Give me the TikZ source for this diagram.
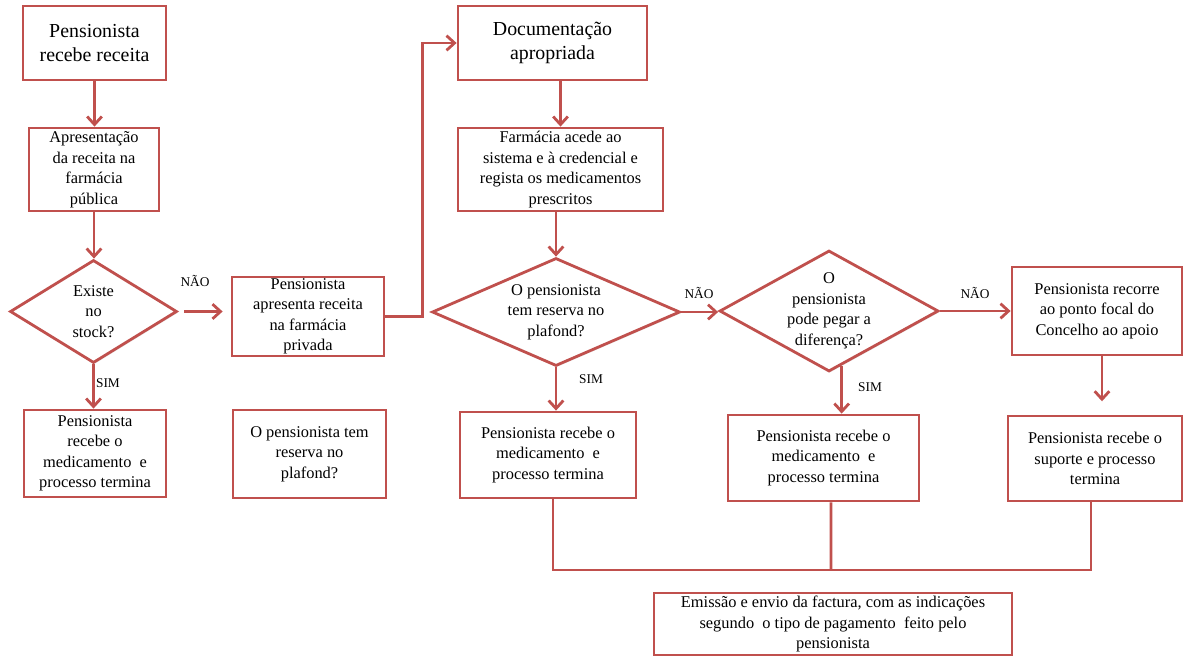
\documentclass[tikz,border=0pt]{standalone}
\usepackage{fontspec}
\setmainfont{Liberation Serif}
\usetikzlibrary{shapes.geometric, arrows.meta, calc, shadows}
\definecolor{flowred}{RGB}{192, 80, 77}
\newcommand{\boxfont}{\fontsize{12.3}{15.4}\selectfont}
\newcommand{\headfont}{\fontsize{14.9}{17.5}\selectfont}
\newcommand{\answerfont}{\fontsize{10}{12}\selectfont}
\tikzset{
  procbox/.style={draw=flowred, line width=2.1pt, fill=white, align=center, inner sep=0pt, font=\boxfont,
    drop shadow={opacity=0.18, shadow xshift=1pt, shadow yshift=-1pt}},
  headbox/.style={procbox, font=\headfont},
  decision/.style={procbox, diamond, aspect=#1},
  boxsize/.style 2 args={minimum width=#1*0.75pt, minimum height=#2*0.75pt},
  flow/.style={draw=flowred, line width=2.1pt, -{Straight Barb[length=6pt, width=11pt]}},
  link/.style={draw=flowred, line width=2.1pt},
  answer/.style={font=\answerfont, inner sep=1pt},
}

\begin{document}
\begin{tikzpicture}[x=0.75pt, y=-0.75pt]
  \useasboundingbox (0,0) rectangle (1184,656);
  % public pharmacy column
  \node[headbox, boxsize={143}{74}] (recv) at (94.5,43) {Pensionista\\recebe receita};
  \node[procbox, boxsize={130}{83}] (pub) at (94,169.5) {Apresentação\\da receita na\\farmácia\\pública};
  \node[decision=1.62, boxsize={167}{103}] (stock) at (93.5,311.5) {Existe\\no\\stock?};
  \node[procbox, boxsize={142}{87}] (gotpub) at (95,453.5) {Pensionista\\recebe o\\medicamento\ \ e\\processo termina};
  % private pharmacy
  \node[procbox, boxsize={152}{79}] (priv) at (308,316.5) {Pensionista\\apresenta receita\\na farmácia\\privada};
  \node[procbox, boxsize={153}{88}] (quest) at (309.5,454) {O pensionista tem\\reserva no\\plafond?};
  \node[headbox, boxsize={189}{74}] (doc) at (552.5,43) {Documentação\\apropriada};
  \node[procbox, boxsize={205}{83}] (reg) at (560.5,169.5) {Farmácia acede ao\\sistema e à credencial e\\regista os medicamentos\\prescritos};
  \node[decision=2.3, boxsize={248}{108}] (resv) at (556,312) {O pensionista\\tem reserva no\\plafond?};
  \node[procbox, boxsize={176}{86}] (fin1) at (548,455) {Pensionista recebe o\\medicamento\ \ e\\processo termina};
  \node[decision=1.81, boxsize={219}{121}, inner ysep=-2pt] (dif) at (829,311) {O\\pensionista\\pode pegar a\\diferença?};
  \node[procbox, boxsize={191}{86}] (fin2) at (823.5,458) {Pensionista recebe o\\medicamento\ \ e\\processo termina};
  \node[procbox, boxsize={170}{88}] (focal) at (1097,311) {Pensionista recorre\\ao ponto focal do\\Concelho ao apoio};
  \node[procbox, boxsize={174}{85}] (support) at (1095,458.5) {Pensionista recebe o\\suporte e processo\\termina};
  \node[procbox, boxsize={358}{62}] (bill) at (833,624) {Emissão e envio da factura, com as indicações\\segundo\ \ o tipo de pagamento\ \ feito pelo\\pensionista};

  % answers
  \node[answer] (no1) at (195,281) {NÃO};
  \node[answer] (yes1) at (108,383) {SIM};
  \node[answer] (no2) at (699,293) {NÃO};
  \node[answer] (yes2) at (591,379) {SIM};
  \node[answer] (no3) at (975,293) {NÃO};
  \node[answer] (yes3) at (870,387) {SIM};

  % arrows
  \draw[flow] (recv.south) -- (recv.south |- pub.north);
  \draw[flow] (pub.south) -- (pub.south |- stock.north);
  \draw[flow] (stock.south) -- (stock.south |- gotpub.north);
  \draw[flow, shorten <=4.5pt, shorten >=6pt] (stock.east) -- (stock.east -| priv.west);
  \draw[flow] (priv.east) -- ++(37,0) |- (doc.west);
  \draw[flow] (reg.north |- doc.south) -- (reg.north);
  \draw[flow] (reg.south -| resv.north) -- (resv.north);
  \draw[flow] (resv.south) -- (resv.south |- fin1.north);
  \draw[flow] (resv.east) -- (resv.east -| dif.west);
  \draw[flow] (dif.-77) -- (dif.-77 |- fin2.north);
  \draw[flow] (dif.east) -- (dif.east -| focal.west);
  \draw[flow, shorten >=10pt] ($(focal.south)+(5,0)$) -- ($(support.north)+(7,0)$);

  % joining the three endings
  \coordinate (merge) at (831,570);
  \draw[link] ([xshift=3.75pt]fin1.south) |- (merge);
  \draw[link] ([xshift=5.6pt]fin2.south) -- (merge);
  \draw[link] ([xshift=-3pt]support.south) |- (merge);
\end{tikzpicture}
\end{document}
